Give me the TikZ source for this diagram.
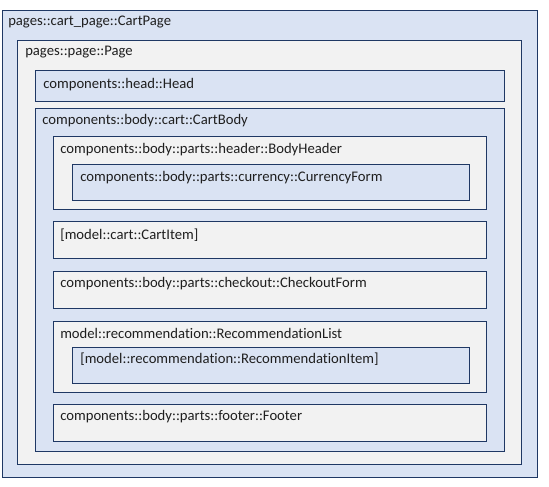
\documentclass[tikz,border=0pt]{standalone}
\usepackage{fontspec}
\setmainfont[Ligatures=NoCommon]{Carlito}
\usepackage{tikz}
\definecolor{boxblue}{HTML}{DAE3F3}
\definecolor{boxgray}{HTML}{F2F2F2}
\definecolor{boxline}{HTML}{1F3864}

\begin{document}
\begin{tikzpicture}[x=0.75pt, y=-0.75pt,
    bluebox/.style = {draw=boxline, fill=boxblue, line width=0.75pt},
    graybox/.style = {draw=boxline, fill=boxgray, line width=0.75pt},
    lbl/.style = {anchor=west, inner sep=0pt, font=\fontsize{11}{13}\selectfont, text=black!88}]

    \useasboundingbox (0,0) rectangle (549,486);

    % Boxes, outer to inner
    \draw[bluebox] (2,10) coordinate (cartpage) rectangle (537,477);
    \draw[graybox] (17,40) coordinate (page) rectangle (521,464);
    \draw[bluebox] (35,70) coordinate (head) rectangle (504,101);
    \draw[bluebox] (35,108) coordinate (cartbody) rectangle (504,451);
    \draw[graybox] (53,136) coordinate (bodyheader) rectangle (486,209);
    \draw[bluebox] (72,164) coordinate (currency) rectangle (469,200);
    \draw[graybox] (53,221) coordinate (cartitem) rectangle (486,258);
    \draw[graybox] (53,271) coordinate (checkout) rectangle (486,308);
    \draw[graybox] (53,321) coordinate (reclist) rectangle (486,392);
    \draw[bluebox] (72,347) coordinate (recitem) rectangle (469,383);
    \draw[graybox] (53,404) coordinate (footer) rectangle (486,441);

    % Labels, top left of each box
    \node[lbl] (cartpagelbl) at ([shift={(6,12)}]cartpage) {pages::cart\_page::CartPage};
    \node[lbl] (pagelbl) at ([shift={(8,12)}]page) {pages::page::Page};
    \node[lbl] (headlbl) at ([shift={(8,15)}]head) {components::head::Head};
    \node[lbl] (cartbodylbl) at ([shift={(7,13)}]cartbody) {components::body::cart::CartBody};
    \node[lbl] (bodyheaderlbl) at ([shift={(7,14)}]bodyheader) {components::body::parts::header::BodyHeader};
    \node[lbl] (currencylbl) at ([shift={(8,14)}]currency) {components::body::parts::currency::CurrencyForm};
    \node[lbl] (cartitemlbl) at ([shift={(7,14)}]cartitem) {[model::cart::CartItem]};
    \node[lbl] (checkoutlbl) at ([shift={(7,13)}]checkout) {components::body::parts::checkout::CheckoutForm};
    \node[lbl] (reclistlbl) at ([shift={(7,12)}]reclist) {model::recommendation::RecommendationList};
    \node[lbl] (recitemlbl) at ([shift={(8,12)}]recitem) {[model::recommendation::RecommendationItem]};
    \node[lbl] (footerlbl) at ([shift={(7,13)}]footer) {components::body::parts::footer::Footer};

\end{tikzpicture}
\end{document}
